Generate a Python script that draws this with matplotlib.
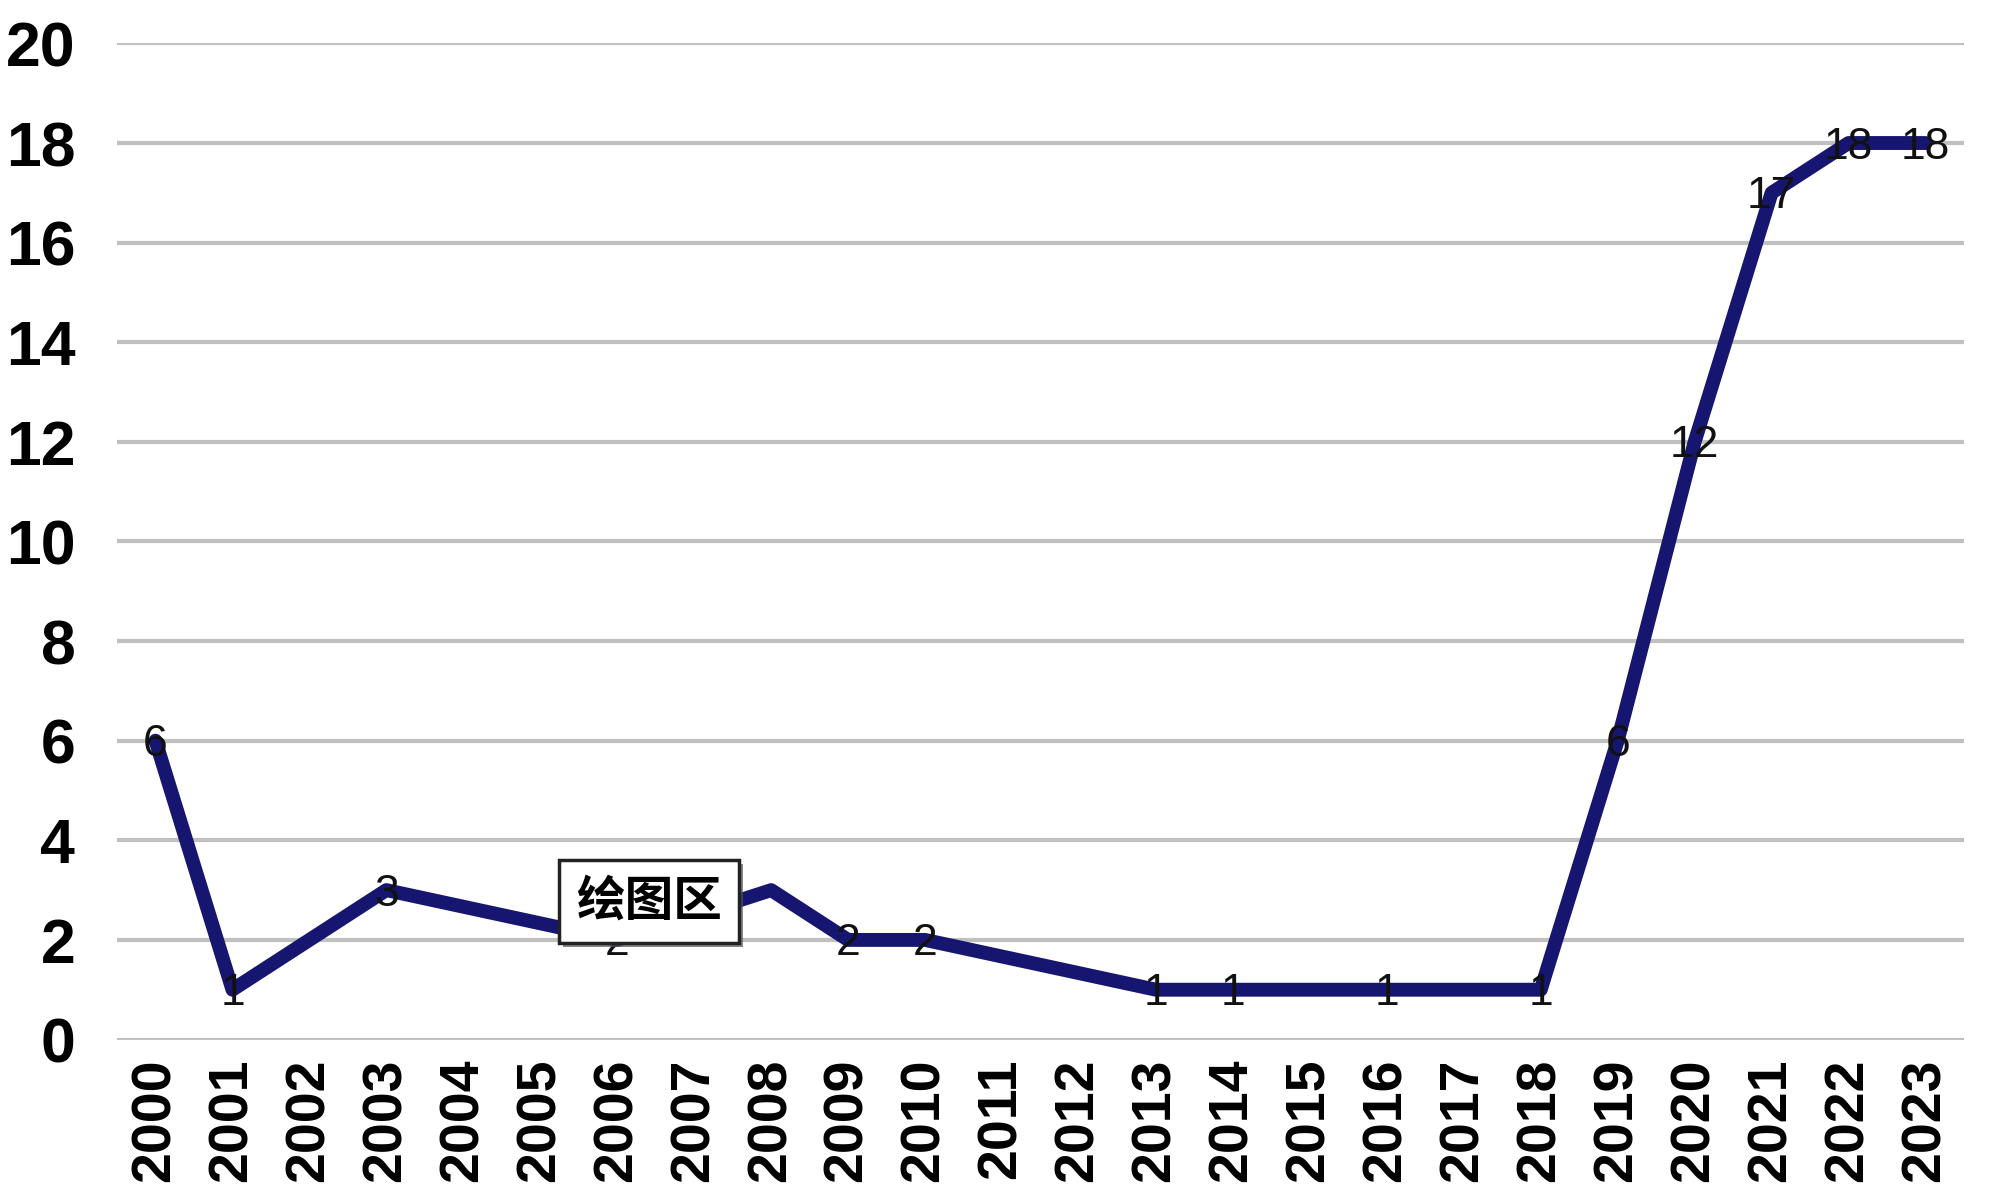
import numpy as np
import matplotlib.pyplot as plt
from matplotlib.transforms import offset_copy

# data (years without a point are left as nan)
years = [str(y) for y in range(2000, 2024)]
values = [6, 1, np.nan, 3, np.nan, np.nan, 2, np.nan, 3, 2, 2, np.nan,
          np.nan, 1, 1, np.nan, 1, np.nan, 1, 6, 12, 17, 18, 18]
hidden_labels = ["2008"]  # label under the tooltip box
y_ticks = [0, 2, 4, 6, 8, 10, 12, 14, 16, 18, 20]
tooltip_text = "绘图区"

plt.rcParams['font.family'] = ['Liberation Sans', 'Noto Sans CJK SC', 'DejaVu Sans']

fig = plt.figure(figsize=(20, 11.99), dpi=100)
ax = fig.add_axes([0.0585, 0.133, 0.9235, 0.8308])

x = np.arange(len(years))
vals = np.array(values, dtype=float)
ok = ~np.isnan(vals)

ax.plot(x[ok], vals[ok], color='#161670', linewidth=10,
        solid_joinstyle='round', solid_capstyle='round', zorder=3)

for xi, v, yr in zip(x[ok], vals[ok], np.array(years)[ok]):
    if yr in hidden_labels:
        continue
    ax.text(xi, v - 0.08, f"{int(v)}", ha='center', va='center',
            fontsize=32, color='#111111', zorder=4)

# tooltip box over the plot area, with a small drop shadow
cjk = ['Noto Sans CJK SC', 'DejaVu Sans']
shadow_tr = offset_copy(ax.transData, fig=fig, x=4, y=-4, units='dots')
ax.text(6.41, 2.78, tooltip_text, ha='center', va='center', fontsize=35,
        fontweight='bold', family=cjk, color='none', transform=shadow_tr,
        zorder=5,
        bbox=dict(boxstyle='square,pad=0.35', facecolor='#555555',
                  edgecolor='none', alpha=0.7))
ax.text(6.41, 2.78, tooltip_text, ha='center', va='center', fontsize=35,
        fontweight='bold', family=cjk, zorder=6,
        bbox=dict(boxstyle='square,pad=0.35', facecolor='white',
                  edgecolor='#222222', linewidth=2.5))

ax.set_xlim(-0.5, len(years) - 0.5)
ax.set_ylim(0, 20)
ax.set_yticks(y_ticks)
ax.set_yticklabels([str(t) for t in y_ticks], fontsize=45, fontweight='bold')
ax.set_xticks(x)
ax.set_xticklabels(years, rotation=90, fontsize=40, fontweight='bold')
ax.tick_params(length=0, pad=14)
ax.tick_params(axis='y', pad=30)

ax.yaxis.grid(True, color='#c0c0c0', linewidth=3)
ax.set_axisbelow(True)
for s in ax.spines.values():
    s.set_visible(False)

fig.savefig('out.png', dpi=100)
